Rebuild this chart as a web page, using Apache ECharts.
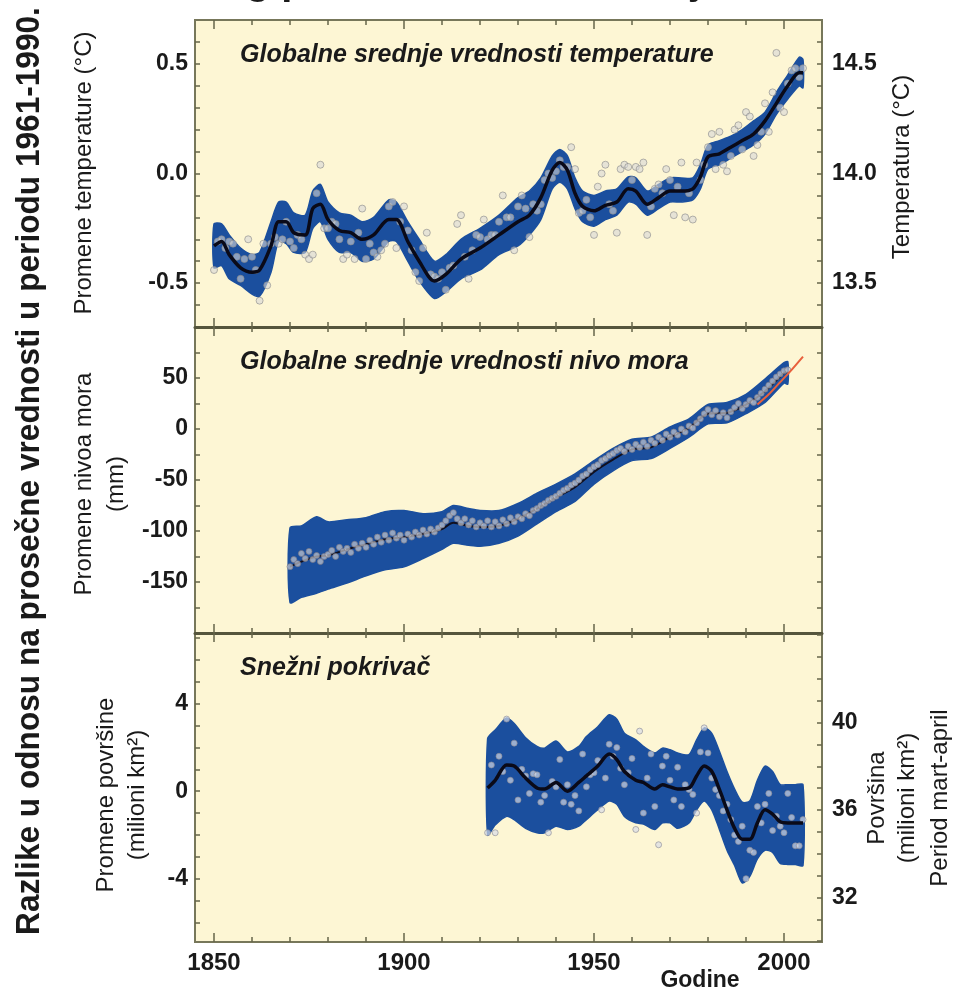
<!DOCTYPE html>
<html><head><meta charset="utf-8">
<script src="https://cdn.jsdelivr.net/npm/echarts@6/dist/echarts.min.js"></script>
<style>html,body{margin:0;padding:0;background:#fff}#c{width:957px;height:993px}</style>
</head><body><div id="c"></div><script>
// ---------------- DATA ----------------
const xMin = 1845, xMax = 2010;
const decadeTicks = [1850,1860,1870,1880,1890,1900,1910,1920,1930,1940,1950,1960,1970,1980,1990,2000];
const yearLabels = [1850,1900,1950,2000];

const tempLeftTicks = [-0.6,-0.5,-0.4,-0.3,-0.2,-0.1,0,0.1,0.2,0.3,0.4,0.5,0.6];
const tempLeftLabels = [-0.5,0,0.5];
const tempRightTicks = [13.4,13.5,13.6,13.7,13.8,13.9,14.0,14.1,14.2,14.3,14.4,14.5,14.6];
const tempRightLabels = [13.5,14.0,14.5];
const seaTicks = [-175,-150,-125,-100,-75,-50,-25,0,25,50,75];
const seaLabels = [-150,-100,-50,0,50];
const snowLeftTicks = [-6,-5,-4,-3,-2,-1,0,1,2,3,4,5,6,7];
const snowLeftLabels = [-4,0,4];
const snowRightTicks = [30,31,32,33,34,35,36,37,38,39,40,41,42,43,44];
const snowRightLabels = [32,36,40];

// Temperature: annual values 1850-2005 (deg C, anomaly vs 1961-1990)
const tempStartYear = 1850;
const tempAnnual = [-0.44,-0.31,-0.30,-0.34,-0.31,-0.32,-0.38,-0.48,-0.39,-0.30,
 -0.38,-0.44,-0.58,-0.32,-0.51,-0.32,-0.29,-0.32,-0.30,-0.22,
 -0.31,-0.34,-0.28,-0.30,-0.37,-0.39,-0.37,-0.09,0.04,-0.25,
 -0.25,-0.22,-0.23,-0.30,-0.39,-0.37,-0.31,-0.39,-0.27,-0.16,
 -0.39,-0.32,-0.36,-0.38,-0.35,-0.32,-0.15,-0.13,-0.34,-0.22,
 -0.15,-0.26,-0.35,-0.45,-0.49,-0.34,-0.27,-0.46,-0.47,-0.48,
 -0.45,-0.53,-0.43,-0.42,-0.23,-0.19,-0.38,-0.48,-0.35,-0.28,
 -0.29,-0.21,-0.30,-0.28,-0.28,-0.22,-0.10,-0.20,-0.20,-0.35,
 -0.15,-0.10,-0.16,-0.29,-0.14,-0.17,-0.14,-0.03,0.00,-0.02,
 0.01,0.06,0.03,0.03,0.12,0.02,-0.18,-0.17,-0.12,-0.20,
 -0.28,-0.06,0.00,0.04,-0.14,-0.17,-0.27,0.02,0.04,0.03,
 -0.03,0.03,0.02,0.05,-0.28,-0.15,-0.07,-0.05,-0.09,0.02,
 -0.03,-0.19,-0.06,0.05,-0.20,-0.09,-0.21,0.05,-0.03,0.04,
 0.12,0.18,0.02,0.19,0.04,0.01,0.08,0.20,0.22,0.11,
 0.28,0.26,0.08,0.13,0.19,0.32,0.19,0.37,0.55,0.30,
 0.28,0.41,0.47,0.48,0.44,0.48];
// Temperature: smoothed curve and uncertainty band
const tempSmYears = [1850,1852,1854,1857,1860,1862,1865,1867,1869,1871,1874,1876,1878,1880,1883,1886,1889,1892,1896,1898,1901,1904,1908,1911,1915,1920,1925,1930,1933,1936,1939,1941,1943,1945,1947,1950,1953,1956,1959,1961,1964,1967,1970,1973,1976,1978,1980,1983,1986,1989,1992,1995,1998,2001,2004,2005];
const tempSmooth = [-0.33,-0.31,-0.37,-0.43,-0.45,-0.44,-0.33,-0.22,-0.22,-0.27,-0.28,-0.16,-0.14,-0.21,-0.26,-0.27,-0.30,-0.28,-0.21,-0.21,-0.31,-0.40,-0.49,-0.46,-0.39,-0.34,-0.28,-0.22,-0.19,-0.11,0.015,0.05,0.015,-0.09,-0.15,-0.17,-0.145,-0.13,-0.07,-0.08,-0.14,-0.11,-0.08,-0.08,-0.07,-0.015,0.076,0.09,0.12,0.15,0.18,0.24,0.32,0.40,0.46,0.46];
const tempLow = [-0.43,-0.42,-0.48,-0.51,-0.55,-0.56,-0.45,-0.31,-0.32,-0.36,-0.36,-0.25,-0.22,-0.30,-0.36,-0.36,-0.40,-0.39,-0.31,-0.31,-0.40,-0.49,-0.57,-0.54,-0.48,-0.44,-0.37,-0.33,-0.28,-0.21,-0.07,-0.04,-0.07,-0.16,-0.22,-0.24,-0.21,-0.19,-0.13,-0.14,-0.19,-0.16,-0.13,-0.13,-0.12,-0.07,0.02,0.04,0.07,0.10,0.13,0.18,0.27,0.34,0.40,0.39];
const tempHigh = [-0.23,-0.23,-0.28,-0.34,-0.37,-0.36,-0.22,-0.13,-0.13,-0.18,-0.19,-0.08,-0.05,-0.13,-0.18,-0.19,-0.22,-0.20,-0.12,-0.13,-0.22,-0.30,-0.40,-0.37,-0.30,-0.25,-0.19,-0.11,-0.08,-0.02,0.08,0.11,0.08,-0.02,-0.08,-0.10,-0.08,-0.07,-0.015,-0.02,-0.08,-0.05,-0.02,-0.02,-0.02,0.04,0.13,0.15,0.17,0.20,0.24,0.28,0.37,0.45,0.53,0.52];

// Sea level: annual values 1870-2001 (mm)
const seaStartYear = 1870;
const seaAnnual = [-135,-128,-132,-122,-127,-120,-128,-124,-130,-125,
 -123,-119,-125,-116,-120,-117,-121,-113,-117,-112,
 -116,-109,-113,-106,-111,-104,-109,-102,-107,-104,
 -109,-103,-106,-101,-104,-99,-103,-98,-101,-97,
 -94,-90,-85,-82,-88,-92,-88,-94,-90,-96,
 -92,-95,-90,-96,-91,-95,-89,-93,-87,-91,
 -86,-88,-83,-85,-80,-78,-75,-73,-70,-68,
 -66,-63,-60,-58,-55,-53,-50,-46,-44,-40,
 -37,-35,-31,-29,-26,-24,-21,-19,-22,-17,
 -20,-15,-18,-13,-17,-11,-14,-8,-11,-5,
 -8,-3,-6,0,-3,3,1,6,10,15,
 19,14,18,12,16,11,17,21,25,20,
 24,28,26,31,35,39,43,47,51,54,
 57,58];
const seaBandYears = [1870,1873,1877,1880,1885,1890,1895,1900,1905,1910,1913,1917,1920,1925,1930,1935,1940,1945,1950,1955,1960,1965,1970,1975,1980,1985,1990,1995,2000,2001];
const seaLow = [-170,-165,-161,-157,-151,-144,-138,-135,-127,-118,-112,-114,-115,-112,-105,-93,-81,-71,-54,-41,-31,-29,-19,-8,5,6,15,26,45,44];
const seaHigh = [-97,-95,-86,-91,-89,-87,-81,-80,-83,-81,-75,-78,-80,-80,-73,-63,-54,-44,-31,-19,-10,-8,2,10,24,26,34,49,65,66];
const seaSmooth = [-135,-130,-125,-124,-118,-113,-108,-106,-103,-98,-92,-95,-96,-95,-88,-78,-67,-57,-42,-30,-20,-18,-8,1,15,16,24,37,55,56];
const satYears = [1993,1996,1999,2002,2005];
const satSea = [24,34,46,58,71];

// Snow cover: annual values 1922-2005 (million km2, anomaly)
const snowStartYear = 1922;
const snowAnnual = [-1.9,1.2,-1.9,1.6,0.9,3.3,0.5,2.2,-0.4,1.0,
 0.7,-0.1,0.8,0.75,-0.5,-0.2,-1.9,0.45,0.2,1.45,
 -0.5,0.3,-0.6,-0.2,-0.9,1.7,0.2,0.75,0.85,1.4,
 -0.85,0.6,2.15,1.6,2.0,1.05,0.3,0.85,1.5,-1.75,
 2.75,-1.0,0.6,1.7,-0.7,-2.45,1.15,1.6,0.5,-0.4,
 1.1,-0.7,0.3,0.08,-0.15,-1.0,1.8,2.9,1.75,0.6,
 0.08,-0.2,-0.9,-0.6,-1.3,-2.0,-2.3,-1.6,-4.0,-2.7,
 -2.8,-0.7,-1.45,-0.6,-0.1,-1.8,-1.15,-1.6,-1.9,-0.1,
 -1.2,-2.5,-2.5,-1.3];
const snowSmYears = [1922,1924,1927,1929,1932,1935,1937,1940,1943,1946,1948,1951,1954,1956,1958,1961,1963,1966,1968,1970,1972,1975,1977,1979,1981,1983,1985,1987,1989,1991,1993,1995,1997,1999,2001,2003,2005];
const snowSmooth = [0.15,0.5,1.2,1.15,0.6,0.15,0.1,0.4,0.0,0.4,0.7,1.15,1.7,1.45,0.9,0.5,0.4,0.1,0.3,0.2,0.1,0.15,0.7,1.15,0.9,0.08,-0.85,-1.7,-2.2,-2.2,-1.45,-0.85,-1.05,-1.4,-1.45,-1.45,-1.45];
const snowLow = [-2.0,-1.55,-1.15,-1.3,-1.7,-1.9,-1.9,-1.6,-1.75,-1.6,-1.3,-0.85,-0.45,-0.6,-1.15,-1.45,-1.5,-1.75,-1.45,-1.45,-1.7,-1.45,-0.85,-0.45,-0.85,-1.75,-2.7,-3.4,-4.2,-3.9,-3.1,-2.7,-2.8,-3.3,-3.35,-3.35,-3.4];
const snowHigh = [2.4,2.8,3.35,3.1,2.45,2.05,1.97,2.3,1.8,2.05,2.5,2.95,3.5,3.3,2.65,2.35,2.05,1.75,1.97,1.9,1.75,1.68,2.35,2.9,2.65,1.83,0.9,0.1,-0.5,-0.45,0.5,1.15,0.9,0.3,0.3,0.3,0.3];

// ---------------- STYLE ----------------
const FONT = '"Liberation Sans", Arial, sans-serif';
const cream = '#fdf6d4';
const blue = '#1b4f9e';
const frameColor = '#77775a';
const sepColor = '#55553c';
const tickColor = '#66664a';
const txt = '#1a1a1a';

function zip(xs, ys){ return xs.map((x,i)=>[x, ys[i]]); }
function zip3(xs, a, b){ return xs.map((x,i)=>[x, a[i], b[i]]); }
function seq(start, vals){ return vals.map((v,i)=>[start+i, v]); }

const grids = [
  {left:195, top:20, width:627, height:307},
  {left:195, top:327, width:627, height:306},
  {left:195, top:633, width:627, height:309}
].map(g => Object.assign(g, {show:true, backgroundColor:cream, borderColor:frameColor, borderWidth:2, containLabel:false, outerBoundsMode:'none'}));

const tickStyle = {color:tickColor, width:1.5};
const xAxes = [];
for (let g=0; g<3; g++) {
  const base = {type:'value', gridIndex:g, min:xMin, max:xMax, splitLine:{show:false}};
  xAxes.push(Object.assign({}, base, {position:'bottom',
    axisLine:{show:g<2, onZero:false, lineStyle:{color:sepColor, width:3}},
    axisTick:{show:true, inside:true, length:5, customValues:decadeTicks, lineStyle:tickStyle},
    axisLabel:{show:g===2, customValues:yearLabels, formatter:v => String(Math.round(v)), color:txt, fontSize:24, fontWeight:'bold', fontFamily:FONT, margin:9}}));
  xAxes.push(Object.assign({}, base, {position:'top', axisLine:{show:false, onZero:false},
    axisTick:{show:true, inside:true, length:5, customValues:decadeTicks, lineStyle:tickStyle}, axisLabel:{show:false}}));
  xAxes.push(Object.assign({}, base, {position:'bottom', axisLine:{show:false, onZero:false},
    axisTick:{show:true, inside:true, length:9, customValues:yearLabels, lineStyle:tickStyle}, axisLabel:{show:false}}));
  xAxes.push(Object.assign({}, base, {position:'top', axisLine:{show:false, onZero:false},
    axisTick:{show:true, inside:true, length:9, customValues:yearLabels, lineStyle:tickStyle}, axisLabel:{show:false}}));
}

function yAx(g, pos, min, max, ticks, labels, fmt) {
  return {type:'value', gridIndex:g, position:pos, min:min, max:max,
    splitLine:{show:false}, axisLine:{show:false, onZero:false},
    axisTick:{show:true, inside:true, length:5, customValues:ticks, lineStyle:tickStyle},
    axisLabel:{show:!!labels, customValues:labels || undefined, formatter:fmt, color:txt,
      fontSize:23, fontWeight:'bold', fontFamily:FONT, margin: pos==='left' ? 7 : 10}};
}
const f1 = v => Number(v).toFixed(1);
const f0 = v => String(Math.round(v));
const yAxes = [
  yAx(0,'left',-0.7,0.7,tempLeftTicks,tempLeftLabels,f1),
  yAx(0,'right',13.3,14.7,tempRightTicks,tempRightLabels,f1),
  yAx(1,'left',-200,100,seaTicks,seaLabels,f0),
  yAx(1,'right',-200,100,seaTicks,null,f0),
  yAx(2,'left',-6.9,7.24,snowLeftTicks,snowLeftLabels,f0),
  yAx(2,'right',29.96,44.1,snowRightTicks,snowRightLabels,f0)
];

// uncertainty band: one polygon through the axis scales (upper edge, then lower edge back)
function band(g, xs, lo, hi) {
  return {type:'custom', xAxisIndex:g*4, yAxisIndex:g*2, data:zip3(xs, lo, hi), clip:true, silent:true, z:2,
    encode:{x:0, y:[1,2]},
    renderItem: function(params, api) {
      if (params.dataIndex !== 0) return null;
      const top = xs.map((x,i)=>api.coord([x, hi[i]]));
      const bot = xs.map((x,i)=>api.coord([x, lo[i]])).reverse();
      return {type:'polygon', shape:{points:top.concat(bot), smooth:0.25},
        style:{fill:blue, stroke:blue, lineWidth:1.5}};
    }};
}
function pts(g, data, size, fill, stroke) {
  return {type:'scatter', xAxisIndex:g*4, yAxisIndex:g*2, data:data, symbolSize:size,
    itemStyle:{color:fill, borderColor:stroke, borderWidth:1}, silent:true, z:3};
}
function curve(g, data, color, width, sm, z) {
  return {type:'line', xAxisIndex:g*4, yAxisIndex:g*2, data:data, symbol:'none', smooth:sm,
    lineStyle:{color:color, width:width}, silent:true, z:z};
}

const series = [
  band(0,tempSmYears,tempLow,tempHigh),
  pts(0, seq(tempStartYear,tempAnnual), 7, 'rgba(215,215,215,0.75)', 'rgba(140,140,140,0.8)'),
  curve(0, zip(tempSmYears,tempSmooth), '#0a0a18', 3.5, 0.3, 4),
  band(1,seaBandYears,seaLow,seaHigh),
  curve(1, zip(seaBandYears,seaSmooth), '#101020', 2, 0.3, 3),
  pts(1, seq(seaStartYear,seaAnnual), 6, 'rgba(205,205,210,0.85)', 'rgba(120,120,135,0.85)'),
  curve(1, zip(satYears,satSea), '#e8603c', 2, 0.2, 5),
  band(2,snowSmYears,snowLow,snowHigh),
  pts(2, seq(snowStartYear,snowAnnual), 6, 'rgba(215,220,232,0.85)', 'rgba(140,140,150,0.8)'),
  curve(2, zip(snowSmYears,snowSmooth), '#0a0a18', 3.5, 0.3, 4)
];

function vtext(x, y, text, font, sx) {
  return {type:'text', x:x, y:y, rotation:Math.PI/2, scaleX: sx || 1,
    style:{text:text, font:font, fill:txt, textAlign:'center', textVerticalAlign:'middle'}, silent:true};
}
function htext(x, y, text, font, align, va) {
  return {type:'text', x:x, y:y, style:{text:text, font:font, fill:txt, textAlign:align||'left', textVerticalAlign:va||'middle'}, silent:true};
}
const labFont = '24px ' + FONT;
const graphic = [
  htext(108, 3, 'snežnog pokrivača na severnoj hemisferi', 'bold 40px ' + FONT, 'left', 'bottom'),
  htext(240, 55, 'Globalne srednje vrednosti temperature', 'italic bold 25px ' + FONT),
  htext(240, 362, 'Globalne srednje vrednosti nivo mora', 'italic bold 25px ' + FONT),
  htext(240, 668, 'Snežni pokrivač', 'italic bold 25px ' + FONT),
  vtext(30, 471, 'Razlike u odnosu na prosečne vrednosti u periodu 1961-1990.', 'bold 34px ' + FONT, 0.93),
  vtext(84, 173, 'Promene temperature (°C)', labFont),
  vtext(84, 484, 'Promene nivoa mora', labFont),
  vtext(116, 484, '(mm)', labFont),
  vtext(106, 795, 'Promene površine', labFont),
  vtext(137, 795, '(milioni km²)', labFont),
  vtext(902, 167, 'Temperatura (°C)', labFont),
  vtext(877, 798, 'Površina', labFont),
  vtext(907, 798, '(milioni km²)', labFont),
  vtext(940, 798, 'Period mart-april', labFont),
  htext(700, 981, 'Godine', 'bold 23px ' + FONT, 'center')
];

const chart = echarts.init(document.getElementById('c'), null, {renderer:'canvas'});
chart.setOption({
  animation:false,
  backgroundColor:'#ffffff',
  grid:grids, xAxis:xAxes, yAxis:yAxes, series:series, graphic:graphic
});
</script></body></html>
